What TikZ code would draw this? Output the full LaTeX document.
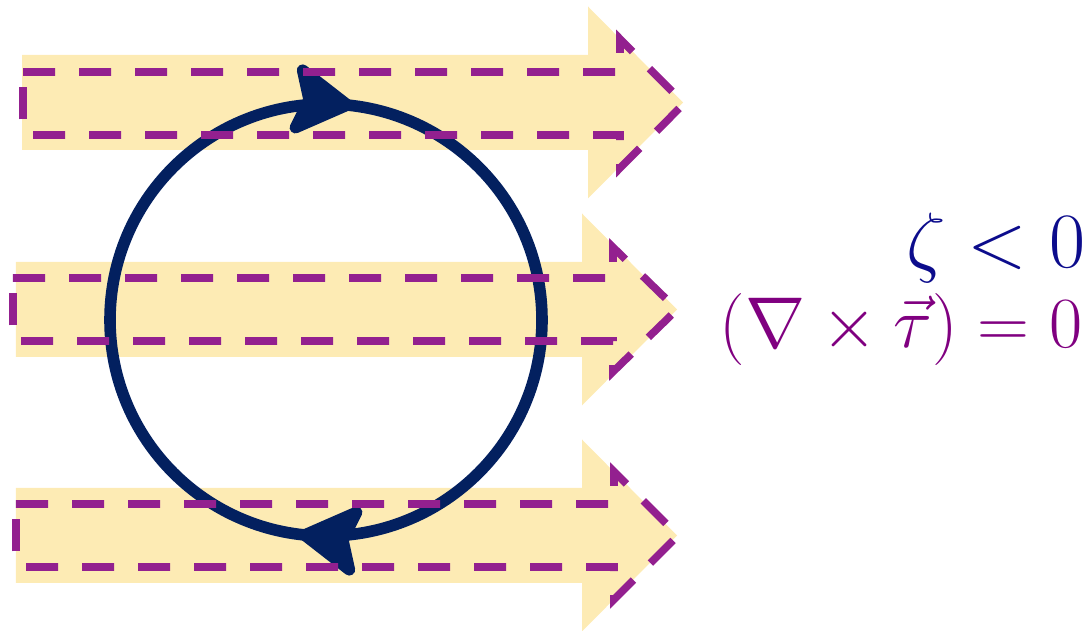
\documentclass[tikz,border=0pt]{standalone}
\usetikzlibrary{arrows.meta, decorations.markings}

\definecolor{bandyellow}{HTML}{FDEBB4}
\definecolor{stresspurple}{HTML}{93208F}
\definecolor{gyrenavy}{HTML}{03205F}
\definecolor{zetanavy}{HTML}{0C0C8C}
\definecolor{curlviolet}{HTML}{800080}

\begin{document}
\begin{tikzpicture}[
        band/.style={fill=bandyellow},
        stress/.style={draw=stresspurple, line width=0.19cm, dash pattern=on 0.8cm off 0.6cm},
        stressside/.style={stress, dash pattern=on 0.8cm off 0.39cm, dash phase=0.8cm},
        gyre/.style={draw=gyrenavy, line width=0.29cm},
        gyretip/.tip={Stealth[length=1.75cm, width=2.05cm, inset=0.35cm, round]},
        eqtext/.style={anchor=base east, inner sep=0pt, font=\Huge}
    ]
        \useasboundingbox (0,0) rectangle (27.3,-15.775);

        % wind bands
        \fill[band] (0.55,-1.375) -- (14.7,-1.375) -- (14.7,-0.1625) -- (17.075,-2.5625) -- (14.7,-4.9625) -- (14.7,-3.75) -- (0.55,-3.75) -- cycle;
        \fill[band] (0.4,-6.55) -- (14.55,-6.55) -- (14.55,-5.3375) -- (16.925,-7.7375) -- (14.55,-10.1375) -- (14.55,-8.925) -- (0.4,-8.925) -- cycle;
        \fill[band] (0.4,-12.2) -- (14.55,-12.2) -- (14.55,-10.9875) -- (16.925,-13.3875) -- (14.55,-15.7875) -- (14.55,-14.575) -- (0.4,-14.575) -- cycle;

        % circulation
        \coordinate (eddy) at (8.15,-8.0);
        \draw[gyre, decoration={markings,
                mark=at position 0.02 with {\arrow{gyretip}},
                mark=at position 0.52 with {\arrow{gyretip}}}, postaction={decorate}]
            ([yshift=5.4cm]eddy) arc[start angle=90, end angle=-270, radius=5.4cm] -- cycle;

        % wind stress outlines
        \draw[stress] (0.575,-1.8) -- (15.5,-1.8) -- (15.5,-0.9725) -- (17.1,-2.5875) -- (15.5,-4.2025) -- (15.5,-3.375) -- (0.575,-3.375);
        \draw[stressside] (0.575,-3.375) -- (0.575,-1.8);
        \draw[stress] (0.325,-6.95) -- (15.325,-6.95) -- (15.325,-6.1805) -- (16.925,-7.7375) -- (15.325,-9.2945) -- (15.325,-8.525) -- (0.325,-8.525);
        \draw[stressside] (0.325,-8.525) -- (0.325,-6.95);
        \draw[stress] (0.4,-12.6) -- (15.35,-12.6) -- (15.35,-11.7875) -- (16.95,-13.3875) -- (15.35,-14.9875) -- (15.35,-14.175) -- (0.4,-14.175);
        \draw[stressside] (0.4,-14.175) -- (0.4,-12.6);

        \node[eqtext, text=zetanavy, scale=2.24] (vort) at (27.14,-6.7) {$\zeta < 0$};
        \node[eqtext, text=curlviolet, scale=2.06] (curl) at (27.08,-8.68) {$(\nabla \times \vec{\tau}) = 0$};
\end{tikzpicture}
\end{document}
